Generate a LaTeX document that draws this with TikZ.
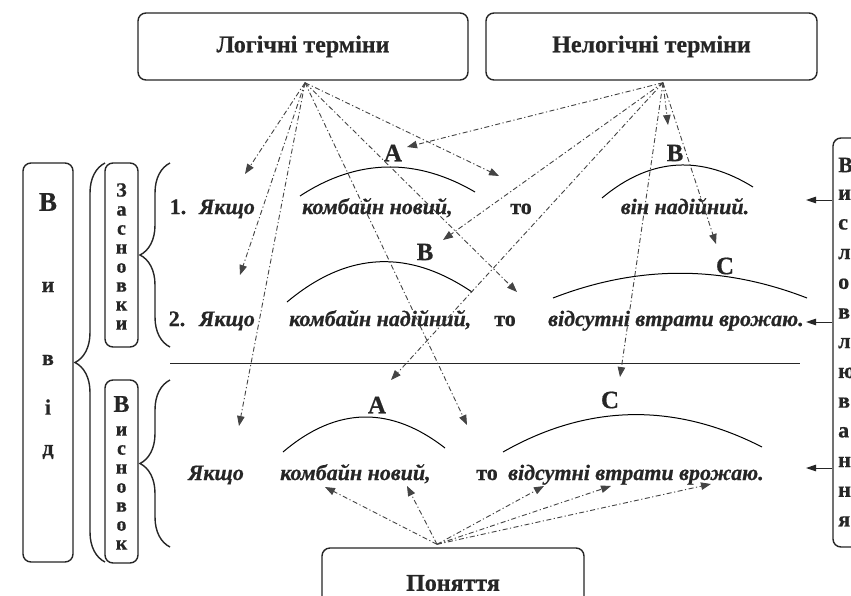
\documentclass[tikz,border=0pt]{standalone}
\usepackage{fontspec}
\setmainfont{Liberation Serif}[BoldFeatures={FakeBold=0.6},BoldItalicFeatures={FakeBold=0.6}]
\usetikzlibrary{arrows.meta,decorations.pathreplacing}
\definecolor{ink}{HTML}{262626}
\definecolor{arr}{HTML}{444444}
\tikzset{
  box/.style={draw=ink, line width=1.4pt, rounded corners=8pt, inner sep=0pt, text=ink},
  title/.style={font=\fontsize{24}{26}\selectfont\bfseries},
  ddarrow/.style={draw=arr, line width=0.9pt, dash pattern=on 5pt off 2.5pt on 1.2pt off 2.5pt,
    -{Triangle[length=10pt,width=7.5pt]}},
  sent/.style={font=\fontsize{22}{24}\selectfont\bfseries\itshape, text=ink, inner sep=0pt, anchor=base west},
  word/.style={font=\fontsize{22}{24}\selectfont\bfseries, text=ink, inner sep=0pt, anchor=base},
  lab/.style={font=\fontsize{25}{27}\selectfont\bfseries, text=ink, inner sep=0pt},
  vlet/.style={font=\fontsize{20}{22}\selectfont\bfseries, text=ink, inner sep=0pt},
  wlet/.style={font=\fontsize{22}{24}\selectfont\bfseries, text=ink, inner sep=0pt},
  biglet/.style={font=\fontsize{27}{29}\selectfont\bfseries, text=ink, inner sep=0pt},
  midlet/.style={font=\fontsize{24}{26}\selectfont\bfseries, text=ink, inner sep=0pt},
  arcline/.style={draw=black, line width=1pt},
  solidarrow/.style={draw=ink, line width=1pt, -{Triangle[length=10pt,width=6.5pt]}},
  brc/.style={draw=ink, line width=1.4pt, decorate, decoration={brace, amplitude=#1}},
  rule/.style={draw=ink, line width=1pt}
}
\begin{document}
\begin{tikzpicture}[x=1pt,y=-1pt]
\fill[white] (0,0) rectangle (851,595);
\useasboundingbox (0,0) rectangle (851,595);

% top boxes
\node[box, title, minimum width=330pt, minimum height=67pt] (L) at (303,46.5) {Логічні терміни};
\node[box, title, minimum width=331pt, minimum height=67pt] (N) at (651.5,46.5) {Нелогічні терміни};
\node[box, title, minimum width=262pt, minimum height=70pt] (P) at (453,583) {Поняття};
\node[box, minimum width=80pt, minimum height=409pt] (R) at (873,342.5) {};

% left boxes
\node[box, minimum width=50pt, minimum height=399pt] (V) at (48,362.5) {};
\node[box, minimum width=33pt, minimum height=184pt] (Z) at (121.5,255) {};
\node[box, minimum width=33pt, minimum height=183pt] (W) at (121.5,471.5) {};

% letters of Вивід
\node[biglet] (v1) at (48,202) {В};
\node[wlet] (v2) at (48,287) {и};
\node[wlet] (v3) at (48,360) {в};
\node[wlet] (v4) at (48,407) {і};
\node[wlet] (v5) at (48,452) {д};

% Засновки
\node[vlet] (z1) at (121.5,190) {З};
\foreach \l [count=\i] in {а,с,н,о,в,к,и}
  \node[vlet] (z\i) at (121.5,{192+19*\i}) {\l};
% Висновок
\node[midlet] (w0) at (121.5,404) {В};
\foreach \l [count=\i] in {и,с,н,о,в,о,к}
  \node[vlet] (w\i) at (121.5,{412+19*\i}) {\l};
% right box letters
\foreach \l [count=\i] in {В,и,с,л,о,в,л,ю,в,а,н,н,я}
  \node[wlet, anchor=west] (r\i) at (838,{135.3+29.7*\i}) {\l};

% braces
\coordinate (bv1) at (105,562); \coordinate (bv2) at (105,163);
\coordinate (bz1) at (170,347); \coordinate (bz2) at (170,163);
\coordinate (bw1) at (170,547); \coordinate (bw2) at (170,380);
\draw[brc=30pt] (bv1) -- (bv2);
\draw[brc=30pt] (bz1) -- (bz2);
\draw[brc=30pt] (bw1) -- (bw2);

% rule under premises
\coordinate (h1) at (170,363); \coordinate (h2) at (800,363);
\draw[rule] (h1) -- (h2);

% row 1
\node[word] (n1) at (178,214) {1.};
\node[sent, anchor=base] (y1) at (227,214) {Якщо};
\node[sent] (k1) at (302,214) {комбайн новий,};
\node[word] (t1) at (521,214) {то};
\node[sent, anchor=base] (c1) at (685,214) {він надійний.};
% row 2
\node[word] (n2) at (177,326) {2.};
\node[sent, anchor=base] (y2) at (227,326) {Якщо};
\node[sent] (k2) at (289,326) {комбайн надійний,};
\node[word] (t2) at (505,326) {то};
\node[sent] (c2) at (548,326) {відсутні втрати врожаю.};
% row 3
\node[sent, anchor=base] (y3) at (216,480) {Якщо};
\node[sent] (k3) at (280,480) {комбайн новий,};
\node[word] (t3) at (487,480) {то};
\node[sent] (c3) at (508,480) {відсутні втрати врожаю.};

% labels
\node[lab] (A1) at (393,153) {A};
\node[lab] (B1) at (675,153) {B};
\node[lab] (B2) at (425,252) {B};
\node[lab] (C2) at (725,266) {C};
\node[lab] (A3) at (377,405) {A};
\node[lab] (C3) at (610,400) {C};

% arcs
\draw[arcline] (300,196) .. controls (358,158) and (417,158) .. (475,192);
\draw[arcline] (602,198) .. controls (652,156) and (703,156) .. (753,187);
\draw[arcline] (287,302) .. controls (349,250) and (410,250) .. (472,292);
\draw[arcline] (553,298) .. controls (638,265) and (722,265) .. (807,298);
\draw[arcline] (283,452) .. controls (337,406) and (391,406) .. (445,448);
\draw[arcline] (503,452) .. controls (589,403) and (676,403) .. (762,447);

% sources
\coordinate (Ls) at ([xshift=2pt,yshift=-2pt]L.south);
\coordinate (Ns) at ([xshift=11.5pt,yshift=-2pt]N.south);
\coordinate (Ps) at ([xshift=-16pt,yshift=3pt]P.north);

% arrow tips
\coordinate (ta1) at (245,174);
\coordinate (ta2) at (240,275);
\coordinate (ta3) at (239,426);
\coordinate (ta5) at (467,425);
\coordinate (ta6) at (499,176);
\coordinate (ta7) at (517,292);
\coordinate (tn1) at (407,147);
\coordinate (tn2) at (443,240);
\coordinate (tn3) at (391,380);
\coordinate (tn4) at (668,125);
\coordinate (tn5) at (716,244);
\coordinate (tn6) at (620,377);
\coordinate (tp1) at (325,487);
\coordinate (tp2) at (407,486);
\coordinate (tp3) at (544,486);
\coordinate (tp4) at (611,486);
\coordinate (tp5) at (711,484);

\foreach \t in {ta1,ta2,ta3,ta5,ta6,ta7} \draw[ddarrow] (Ls) -- (\t);
\foreach \t in {tn1,tn2,tn3,tn4,tn5,tn6} \draw[ddarrow] (Ns) -- (\t);
\foreach \t in {tp1,tp2,tp3,tp4,tp5} \draw[ddarrow] (Ps) -- (\t);

% arrows from the right box
\coordinate (ra1) at (806,200);
\coordinate (ra2) at (806,322);
\coordinate (ra3) at (806,468);
\foreach \t in {ra1,ra2,ra3} \draw[solidarrow] (R.west |- \t) -- (\t);
\end{tikzpicture}
\end{document}
